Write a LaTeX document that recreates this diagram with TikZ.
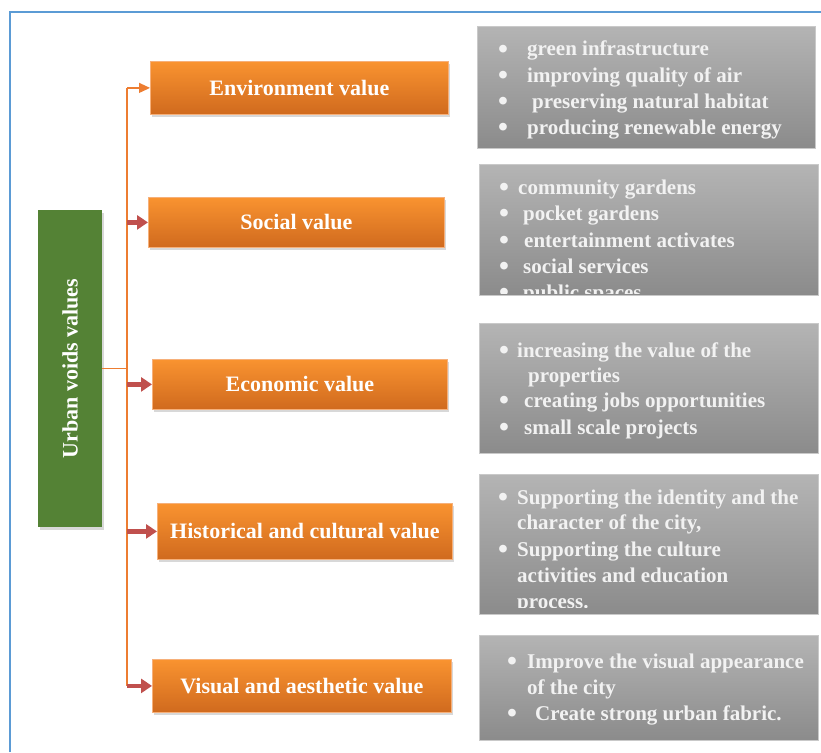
\documentclass[tikz,border=0pt]{standalone}
\usepackage{fontspec}
\setmainfont{Liberation Serif}
\usetikzlibrary{arrows.meta,shadows}
\definecolor{OrTop}{HTML}{F99330}
\definecolor{OrBot}{HTML}{D06A1E}
\definecolor{OrEdge}{HTML}{F6B07A}
\definecolor{GrTop}{HTML}{B4B4B4}
\definecolor{GrBot}{HTML}{8B8B8B}
\definecolor{GrEdge}{HTML}{C9C9C9}
\definecolor{Leaf}{HTML}{548235}
\definecolor{LineOr}{HTML}{ED7D31}
\definecolor{ArrRed}{HTML}{C0504D}
\definecolor{FrameBlue}{HTML}{5B9BD5}
\newcommand\itm[2]{\makebox[#1][l]{\raisebox{-2.6pt}[0pt][0pt]{\scalebox{1.35}{\textbullet}}}#2}
\newcommand\ind[2]{\makebox[#1][l]{}#2}
\begin{document}
\begin{tikzpicture}[x=1pt,y=-1pt,
  valbox/.style={draw=OrEdge, line width=0.8pt, top color=OrTop, bottom color=OrBot,
    text=white, font=\bfseries\fontsize{22}{26}\selectfont, inner sep=0pt, anchor=north west,
    drop shadow={shadow xshift=2pt,shadow yshift=-2.5pt,opacity=0.3}},
  listbox/.style={draw=GrEdge, line width=0.8pt, top color=GrTop, bottom color=GrBot,
    inner sep=0pt, anchor=north west},
  itemtxt/.style={anchor=base west, inner sep=0pt, text=white!95!black,
    font=\bfseries\fontsize{21}{25}\selectfont},
  trunkline/.style={draw=LineOr, line width=1.2pt},
  redarrow/.style={draw=ArrRed, line width=4.5pt, -{Triangle[length=11pt,width=14pt]}},
  orarrow/.style={draw=LineOr, line width=1.2pt, -{Triangle[length=11pt,width=10pt]}}]

\useasboundingbox (0,0) rectangle (821,752);
\fill[white] (0,0) rectangle (821,752);
\draw[FrameBlue, line width=2.6pt] (10,752) -- (10,12) -- (821,12);

% root
\node[fill=Leaf, minimum width=64pt, minimum height=317pt, inner sep=0pt, anchor=north west,
  text=white, font=\bfseries\fontsize{22}{26}\selectfont,
  drop shadow={shadow xshift=2pt,shadow yshift=-2.5pt,opacity=0.3}]
  (root) at (38,210) {\rotatebox{90}{Urban voids values}};

% value boxes
\node[valbox, minimum width=298pt, minimum height=53pt] (eBox) at (150,61) {Environment value};
\node[valbox, minimum width=296pt, minimum height=50pt] (sBox) at (148,197) {Social value};
\node[valbox, minimum width=295pt, minimum height=50pt] (cBox) at (152,359) {Economic value};
\node[valbox, minimum width=295pt, minimum height=56pt] (hBox) at (157,503) {Historical and cultural value};
\node[valbox, minimum width=299pt, minimum height=53pt] (vBox) at (152,659) {Visual and aesthetic value};

% list boxes
\node[listbox, minimum width=338pt, minimum height=122pt] (gE) at (477,26) {};
\node[listbox, minimum width=339pt, minimum height=131pt] (gS) at (479,164) {};
\node[listbox, minimum width=339pt, minimum height=130pt] (gC) at (479,323) {};
\node[listbox, minimum width=339pt, minimum height=140pt] (gH) at (479,474) {};
\node[listbox, minimum width=339pt, minimum height=105pt] (gV) at (479,635) {};

% list texts
\node[itemtxt] (e1) at (498,56) {\itm{29pt}{green infrastructure}};
\node[itemtxt] (e2) at (498,82) {\itm{29pt}{improving quality of air}};
\node[itemtxt] (e3) at (498,108) {\itm{34pt}{preserving natural habitat}};
\node[itemtxt] (e4) at (498,134) {\itm{29pt}{producing renewable energy}};

\begin{scope}
\clip (gS.north west) rectangle ([yshift=2pt]gS.south east);
\node[itemtxt] (s1) at (499,194) {\itm{19pt}{community gardens}};
\node[itemtxt] (s2) at (499,220) {\itm{24pt}{pocket gardens}};
\node[itemtxt] (s3) at (499,247) {\itm{25pt}{entertainment activates}};
\node[itemtxt] (s4) at (499,273) {\itm{24pt}{social services}};
\node[itemtxt] (s5) at (499,299) {\itm{24pt}{public spaces}};
\end{scope}

\node[itemtxt] (c1) at (499,357) {\itm{18pt}{increasing the value of the}};
\node[itemtxt] (c2) at (499,382) {\ind{29pt}{properties}};
\node[itemtxt] (c3) at (499,407) {\itm{25pt}{creating jobs opportunities}};
\node[itemtxt] (c4) at (499,434) {\itm{25pt}{small scale projects}};

\begin{scope}
\clip (gH.north west) rectangle ([yshift=7pt]gH.south east);
\node[itemtxt] (h1) at (498,504) {\itm{19pt}{Supporting the identity and the}};
\node[itemtxt] (h2) at (498,529) {\ind{19pt}{character of the city,}};
\node[itemtxt] (h3) at (498,556) {\itm{19pt}{Supporting the culture}};
\node[itemtxt] (h4) at (498,582) {\ind{19pt}{activities and education}};
\node[itemtxt] (h5) at (498,608) {\ind{19pt}{process.}};
\end{scope}

\node[itemtxt] (v1) at (507,668) {\itm{20pt}{Improve the visual appearance}};
\node[itemtxt] (v2) at (507,694) {\ind{20pt}{of the city}};
\node[itemtxt] (v3) at (507,720) {\itm{28pt}{Create strong urban fabric.}};

% connectors
\coordinate (tr) at (127,0);
\draw[trunkline] (tr |- eBox.west) -- (tr |- vBox.west);
\draw[trunkline] (root.east) -- (root.east -| tr);
\draw[orarrow] (tr |- eBox.west) -- (eBox.west);
\draw[redarrow] (tr |- sBox.west) -- (sBox.west);
\draw[redarrow] (tr |- cBox.west) -- (cBox.west);
\draw[redarrow] (tr |- hBox.west) -- (hBox.west);
\draw[redarrow] (tr |- vBox.west) -- (vBox.west);
\end{tikzpicture}
\end{document}
